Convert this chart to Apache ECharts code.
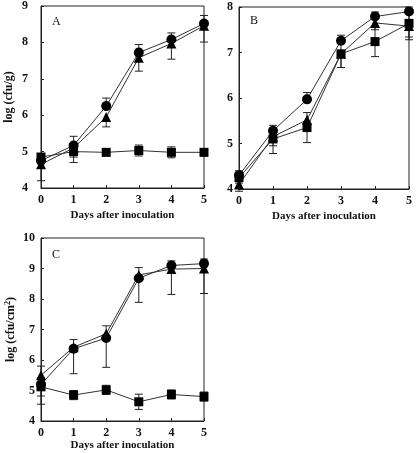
<!DOCTYPE html>
<html><head><meta charset="utf-8">
<script src="https://cdn.jsdelivr.net/npm/echarts@6/dist/echarts.min.js"></script>
<style>html,body{margin:0;padding:0;background:#fff}#c{width:416px;height:453px}</style>
</head><body><div id="c"></div>
<script>
const days = [0, 1, 2, 3, 4, 5];
const xTicks = ['0', '1', '2', '3', '4', '5'];
const xTitle = 'Days after inoculation';
const panelLabels = ['A', 'B', 'C'];
const yNameA = 'log (cfu/g)';
const yNameC = 'log (cfu/cm{sup|2})';

// Panel A (circle: upper error bar shown, triangle: lower, square: both)
const aCircle    = [4.75, 5.17, 6.25, 7.72, 8.08, 8.52];
const aCircleErr = [0.15, 0.25, 0.22, 0.22, 0.18, 0.22];
const aTriangle    = [4.65, 5.10, 5.95, 7.58, 7.97, 8.46];
const aTriangleErr = [0.45, 0.40, 0.27, 0.37, 0.43, 0.45];
const aSquare    = [4.85, 5.00, 4.98, 5.03, 4.98, 4.98];
const aSquareErr = [0.10, 0.15, 0.10, 0.15, 0.15, 0.10];

// Panel B
const bCircle    = [4.30, 5.28, 5.97, 7.26, 7.79, 7.90];
const bCircleErr = [0.10, 0.12, 0.15, 0.12, 0.10, 0.10];
const bTriangle    = [4.10, 5.15, 5.52, 6.97, 7.65, 7.58];
const bTriangleErr = [0.15, 0.37, 0.20, 0.30, 0.15, 0.30];
const bSquare    = [4.25, 5.10, 5.35, 6.97, 7.24, 7.64];
const bSquareErr = [0.12, 0.15, 0.33, 0.30, 0.33, 0.30];

// Panel C
const cCircle    = [5.20, 6.37, 6.72, 8.68, 9.10, 9.16];
const cCircleErr = [0.60, 0.30, 0.40, 0.35, 0.15, 0.15];
const cTriangle    = [5.50, 6.42, 6.86, 8.79, 8.98, 9.00];
const cTriangleErr = [0.95, 0.87, 1.10, 0.90, 0.83, 0.82];
const cSquare    = [5.12, 4.85, 5.02, 4.63, 4.87, 4.80];
const cSquareErr = [0.30, 0.15, 0.15, 0.25, 0.15, 0.15];

const FONT = '"Liberation Serif", "DejaVu Serif", serif';

const grids = [
  {left: 41, top: 6, width: 163, height: 182},
  {left: 239, top: 7, width: 170, height: 182},
  {left: 41, top: 238, width: 163, height: 183}
];
const yRanges = [[4, 9], [4, 8], [4, 10]];
const yLabelMargin = [13, 6, 6];
const xNameGap = [22, 22, 16];

const chart = echarts.init(document.getElementById('c'));

// dir: 1 = upper only, -1 = lower only, 0 = both
function errSeries(gi, vals, errs, dir) {
  return {
    type: 'custom', xAxisIndex: gi, yAxisIndex: gi, z: 1,
    data: days.map((d, i) => [d, vals[i], errs[i]]),
    renderItem: function (params, api) {
      const x = api.value(0), v = api.value(1), e = api.value(2);
      const hi = api.coord([x, dir >= 0 ? v + e : v]);
      const lo = api.coord([x, dir <= 0 ? v - e : v]);
      const w = 4;
      const st = {stroke: '#222', lineWidth: 1, fill: null};
      const ch = [{type: 'line', shape: {x1: hi[0], y1: hi[1], x2: lo[0], y2: lo[1]}, style: st}];
      if (dir >= 0) ch.push({type: 'line', shape: {x1: hi[0] - w, y1: hi[1], x2: hi[0] + w, y2: hi[1]}, style: st});
      if (dir <= 0) ch.push({type: 'line', shape: {x1: lo[0] - w, y1: lo[1], x2: lo[0] + w, y2: lo[1]}, style: st});
      return {type: 'group', children: ch};
    }
  };
}
function lineSeries(gi, vals, symbol, size) {
  return {
    type: 'line', xAxisIndex: gi, yAxisIndex: gi, z: 3,
    data: days.map((d, i) => [d, vals[i]]),
    symbol: symbol, symbolSize: size, showSymbol: true,
    lineStyle: {color: '#333', width: 1},
    itemStyle: {color: '#000'},
    animation: false
  };
}

const series = [];
const sets = [
  [aCircle, aCircleErr, aTriangle, aTriangleErr, aSquare, aSquareErr],
  [bCircle, bCircleErr, bTriangle, bTriangleErr, bSquare, bSquareErr],
  [cCircle, cCircleErr, cTriangle, cTriangleErr, cSquare, cSquareErr]
];
sets.forEach((s, gi) => {
  series.push(errSeries(gi, s[4], s[5], 0));
  series.push(errSeries(gi, s[2], s[3], -1));
  series.push(errSeries(gi, s[0], s[1], 1));
  series.push(lineSeries(gi, s[4], 'rect', 9));
  series.push(lineSeries(gi, s[2], 'triangle', 10));
  series.push(lineSeries(gi, s[0], 'circle', 10));
});

const option = {
  animation: false,
  backgroundColor: '#fff',
  grid: grids.map(g => Object.assign({show: true, borderColor: '#222', borderWidth: 1, backgroundColor: 'transparent'}, g)),
  xAxis: grids.map((g, gi) => ({
    type: 'value', gridIndex: gi, min: 0, max: 5, interval: 1,
    name: xTitle, nameLocation: 'middle', nameGap: xNameGap[gi],
    nameTextStyle: {fontFamily: FONT, fontWeight: 'bold', fontSize: 11, color: '#111'},
    axisLine: {show: true, lineStyle: {color: '#222', width: 1}},
    axisTick: {show: true, inside: true, length: 3, lineStyle: {color: '#222'}},
    axisLabel: {fontFamily: FONT, fontWeight: 'bold', fontSize: 12, color: '#111', margin: 6,
      formatter: v => xTicks[days.indexOf(v)] ?? ''},
    splitLine: {show: false}
  })),
  yAxis: grids.map((g, gi) => ({
    type: 'value', gridIndex: gi, min: yRanges[gi][0], max: yRanges[gi][1], interval: 1,
    name: gi === 0 ? yNameA : (gi === 2 ? yNameC : ''),
    nameLocation: 'middle', nameGap: gi === 0 ? 26 : 24, nameRotate: 90,
    nameTextStyle: {fontFamily: FONT, fontWeight: 'bold', fontSize: 12, color: '#111',
      rich: {sup: {fontFamily: FONT, fontWeight: 'bold', fontSize: 8, verticalAlign: 'top', padding: [0, 0, 5, 0], color: '#111'}}},
    axisLine: {show: true, lineStyle: {color: '#222', width: 1}},
    axisTick: {show: true, inside: true, length: 3, lineStyle: {color: '#222'}},
    axisLabel: {fontFamily: FONT, fontWeight: 'bold', fontSize: 12, color: '#111', margin: yLabelMargin[gi]},
    splitLine: {show: false}
  })),
  graphic: [
    {type: 'text', left: 52, top: 16, style: {text: panelLabels[0], font: '12px ' + FONT, fill: '#111'}},
    {type: 'text', left: 250, top: 15, style: {text: panelLabels[1], font: '12px ' + FONT, fill: '#111'}},
    {type: 'text', left: 52, top: 249, style: {text: panelLabels[2], font: '12px ' + FONT, fill: '#111'}}
  ],
  series: series
};
chart.setOption(option);
</script>
</body></html>
